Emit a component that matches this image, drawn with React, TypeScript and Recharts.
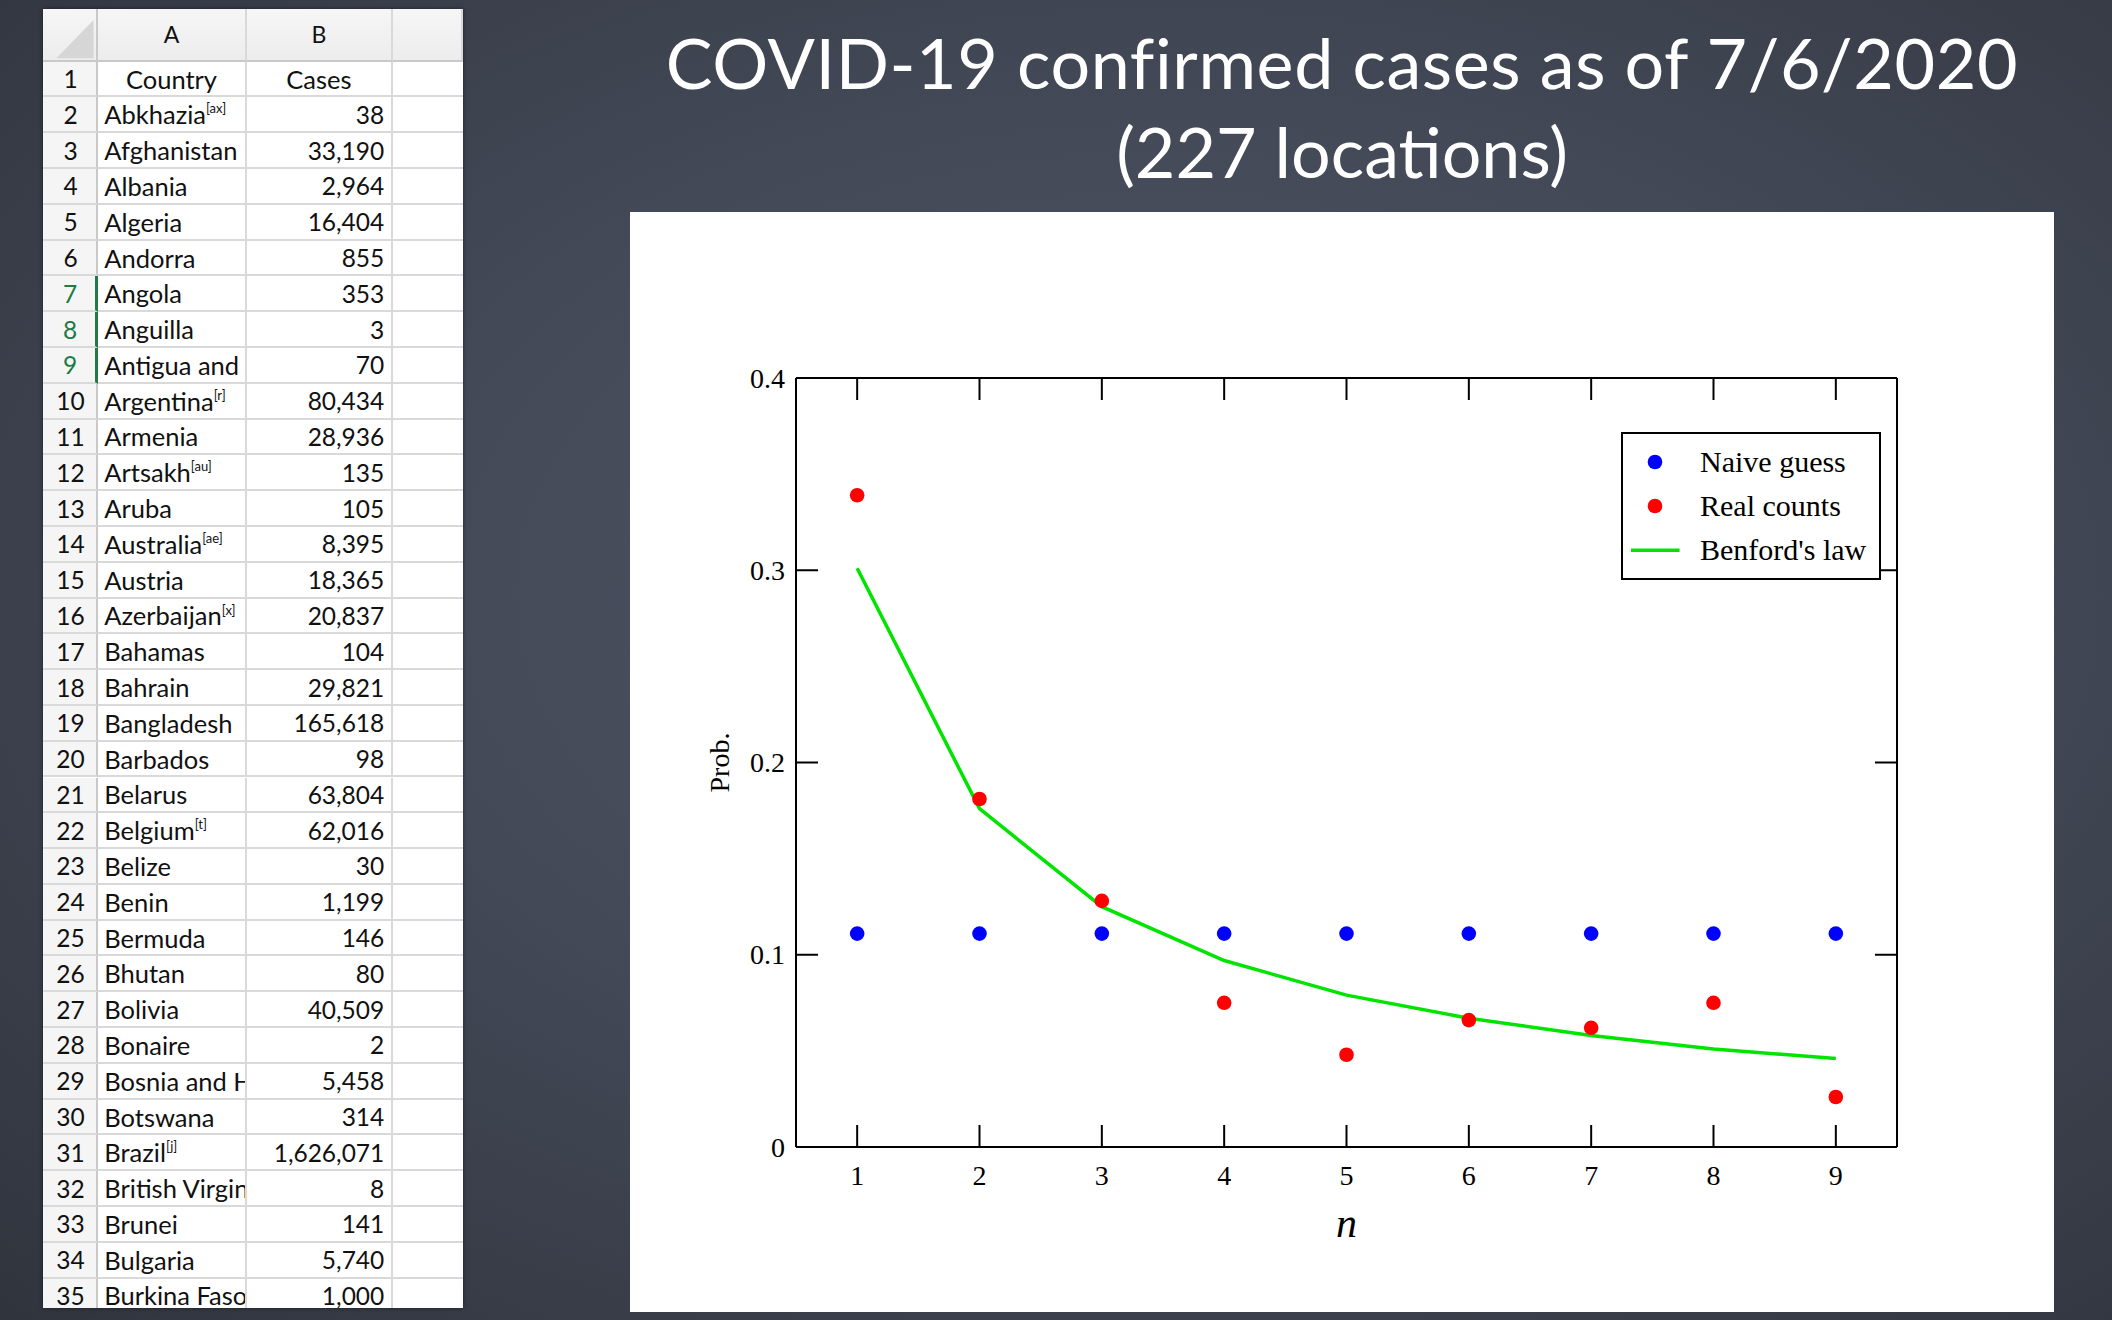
import React from 'react';
import { ComposedChart, Line, Scatter, XAxis, YAxis, Legend } from 'recharts';

// ---------- chart data ----------
const digits = [1, 2, 3, 4, 5, 6, 7, 8, 9];
const naiveGuess = [0.111, 0.111, 0.111, 0.111, 0.111, 0.111, 0.111, 0.111, 0.111];
const realCounts = [0.339, 0.181, 0.128, 0.075, 0.048, 0.066, 0.062, 0.075, 0.026];
const benfordLaw = [0.301, 0.176, 0.125, 0.097, 0.079, 0.067, 0.058, 0.051, 0.046];
const yTicks = [0, 0.1, 0.2, 0.3, 0.4];
const seriesNames = ['Naive guess', 'Real counts', "Benford's law"];
const titleLines = ['COVID-19 confirmed cases as of 7/6/2020', '(227 locations)'];

// ---------- spreadsheet data ----------
const sheetColumns = ['A', 'B'];
const sheetCountries = [
  'Country', 'Abkhazia', 'Afghanistan', 'Albania', 'Algeria', 'Andorra', 'Angola', 'Anguilla',
  'Antigua and', 'Argentina', 'Armenia', 'Artsakh', 'Aruba', 'Australia', 'Austria', 'Azerbaijan',
  'Bahamas', 'Bahrain', 'Bangladesh', 'Barbados', 'Belarus', 'Belgium', 'Belize', 'Benin', 'Bermuda',
  'Bhutan', 'Bolivia', 'Bonaire', 'Bosnia and H', 'Botswana', 'Brazil', 'British Virgin',
  'Brunei', 'Bulgaria', 'Burkina Faso',
];
const sheetNotes = [
  '', 'ax', '', '', '', '', '', '', '', 'r', '', 'au', '', 'ae', '', 'x', '', '', '', '', '', 't',
  '', '', '', '', '', '', '', '', 'j', '', '', '', '',
];
const sheetCases = [
  'Cases', '38', '33,190', '2,964', '16,404', '855', '353', '3', '70', '80,434', '28,936', '135', '105',
  '8,395', '18,365', '20,837', '104', '29,821', '165,618', '98', '63,804', '62,016', '30', '1,199', '146',
  '80', '40,509', '2', '5,458', '314', '1,626,071', '8', '141', '5,740', '1,000',
];
const selectedRows = [7, 8, 9];

const chartData = digits.map((n, i) => ({
  n,
  naive: naiveGuess[i],
  real: realCounts[i],
  benford: benfordLaw[i],
}));

const SERIF = '"Liberation Serif", "Times New Roman", serif';
const TICK = 22;
const GREEN = '#00e400';

const BottomTick = (p: any) => (
  <g>
    <line x1={p.x} y1={p.y} x2={p.x} y2={p.y - TICK} stroke="#000" strokeWidth={2} />
    <text x={p.x} y={p.y + 38} textAnchor="middle" fontFamily={SERIF} fontSize={28} fill="#000">
      {p.payload.value}
    </text>
  </g>
);
const TopTick = (p: any) => (
  <line x1={p.x} y1={p.y} x2={p.x} y2={p.y + TICK} stroke="#000" strokeWidth={2} />
);
const LeftTick = (p: any) => (
  <g>
    <line x1={p.x} y1={p.y} x2={p.x + TICK} y2={p.y} stroke="#000" strokeWidth={2} />
    <text x={p.x - 11} y={p.y + 9.5} textAnchor="end" fontFamily={SERIF} fontSize={28} fill="#000">
      {String(p.payload.value)}
    </text>
  </g>
);
const RightTick = (p: any) => (
  <line x1={p.x} y1={p.y} x2={p.x - TICK} y2={p.y} stroke="#000" strokeWidth={2} />
);

const LegendBox = () => {
  const rows = [30, 74, 118.3];
  return (
    <svg width={260} height={148} style={{ display: 'block' }}>
      <rect x={1} y={1} width={258} height={146} fill="#fff" stroke="#000" strokeWidth={2} />
      <circle cx={34} cy={rows[0]} r={7.3} fill="#0000ff" />
      <circle cx={34} cy={rows[1]} r={7.3} fill="#ff0000" />
      <line x1={10} y1={rows[2]} x2={58.6} y2={rows[2]} stroke={GREEN} strokeWidth={3.5} />
      {seriesNames.map((s, i) => (
        <text key={s} x={79} y={rows[i] + 10} fontFamily={SERIF} fontSize={30} fill="#000">
          {s}
        </text>
      ))}
    </svg>
  );
};

const dot = (color: string) => (p: any) => <circle cx={p.cx} cy={p.cy} r={7.3} fill={color} />;

const Sheet = () => {
  const colW = [55.6, 148.4, 146.6, 69.4];
  const headH = 52.7;
  const rowH = 35.79;
  const grid = '#d9d9d9';
  const font = 'Lato, "Open Sans", sans-serif';
  return (
    <div
      style={{
        position: 'absolute', left: 42.7, top: 9, width: 420, height: 1299.3, overflow: 'hidden',
        background: '#fff', boxShadow: '0 0 4px rgba(0,0,0,0.5)', fontFamily: font, color: '#111',
      }}
    >
      {/* header row */}
      <div style={{ position: 'absolute', left: 0, top: 0, height: headH, width: 420, display: 'flex', background: 'linear-gradient(#f6f6f6, #ececec)' }}>
        <div style={{ width: colW[0], height: headH, boxSizing: 'border-box', borderRight: '2px solid #c9c9c9', borderBottom: '2px solid #c9c9c9', position: 'relative' }}>
          <svg width={colW[0]} height={headH} style={{ position: 'absolute', left: 0, top: 0 }}>
            <polygon points="13.3,49.3 50.6,11 50.6,49.3" fill="#d6d6d6" />
          </svg>
        </div>
        {[...sheetColumns, ''].map((c, i) => (
          <div key={i} style={{ width: colW[i + 1], height: headH, boxSizing: 'border-box', borderRight: `2px solid ${grid}`, borderBottom: '2px solid #c9c9c9', display: 'flex', alignItems: 'center', justifyContent: 'center', fontSize: 23 }}>
            {c}
          </div>
        ))}
      </div>
      {sheetCountries.map((name, r) => {
        const rowNum = r + 1;
        const sel = selectedRows.includes(rowNum);
        const isHead = r === 0;
        return (
          <div key={r} style={{ position: 'absolute', left: 0, top: headH + r * rowH, height: rowH, width: 420, display: 'flex' }}>
            <div style={{ width: colW[0], height: rowH, boxSizing: 'border-box', background: '#f5f5f5', borderRight: sel ? '3px solid #217a46' : '2px solid #c9c9c9', borderBottom: `2px solid ${grid}`, display: 'flex', alignItems: 'center', justifyContent: 'center', color: sel ? '#217a46' : '#111', paddingLeft: 2, fontSize: 24.5 }}>
              {rowNum}
            </div>
            <div style={{ width: colW[1], height: rowH, boxSizing: 'border-box', borderRight: `2px solid ${grid}`, borderBottom: `2px solid ${grid}`, display: 'flex', alignItems: 'center', justifyContent: isHead ? 'center' : 'flex-start', paddingLeft: isHead ? 0 : 6, overflow: 'hidden', whiteSpace: 'nowrap', fontSize: 25.5 }}>
              <span>{name}</span>
              {sheetNotes[r] ? (
                <span style={{ fontSize: 13, alignSelf: 'flex-start', marginTop: 3 }}>[{sheetNotes[r]}]</span>
              ) : null}
            </div>
            <div style={{ width: colW[2], height: rowH, boxSizing: 'border-box', borderRight: `2px solid ${grid}`, borderBottom: `2px solid ${grid}`, display: 'flex', alignItems: 'center', justifyContent: isHead ? 'center' : 'flex-end', paddingRight: isHead ? 0 : 7, fontSize: isHead ? 25.5 : 24.5 }}>
              {sheetCases[r]}
            </div>
            <div style={{ width: colW[3], height: rowH, boxSizing: 'border-box', borderBottom: `2px solid ${grid}` }} />
          </div>
        );
      })}
    </div>
  );
};

export default function App() {
  return (
    <div
      style={{
        position: 'absolute', left: 0, top: 0, width: 2112, height: 1320, overflow: 'hidden',
        background: 'radial-gradient(ellipse at 55% 45%, #4c5363 0%, #444a58 45%, #30343d 100%)',
      }}
    >
      <Sheet />
      {titleLines.map((t, i) => (
        <div
          key={t}
          style={{
            position: 'absolute', left: 630, width: 1424, top: 27 + i * 89, textAlign: 'center',
            fontFamily: 'Lato, sans-serif', fontSize: 70, lineHeight: '70px', color: '#fff', whiteSpace: 'nowrap',
            letterSpacing: i === 0 ? 0.6 : 0,
          }}
        >
          {t}
        </div>
      ))}
      <div style={{ position: 'absolute', left: 630, top: 212, width: 1424, height: 1100, background: '#fff' }}>
        <ComposedChart width={1424} height={1100} data={chartData} margin={{ top: 0, right: 0, bottom: 0, left: 0 }}>
          <XAxis
            xAxisId="b" type="number" dataKey="n" domain={[0.5, 9.5]} ticks={digits} interval={0}
            allowDataOverflow height={165} tickSize={0} tickMargin={0} tickLine={false}
            axisLine={{ stroke: '#000', strokeWidth: 2 }} tick={BottomTick}
            label={{
              value: 'n',
              content: (props: any) => {
                const vb = props.viewBox || {};
                return (
                  <text x={vb.x + vb.width / 2} y={vb.y + 90} textAnchor="middle" fontFamily={SERIF} fontStyle="italic" fontSize={42} fill="#000">
                    n
                  </text>
                );
              },
            }}
          />
          <XAxis
            xAxisId="t" orientation="top" type="number" dataKey="n" domain={[0.5, 9.5]} ticks={digits} interval={0}
            allowDataOverflow height={166} tickSize={0} tickMargin={0} tickLine={false}
            axisLine={{ stroke: '#000', strokeWidth: 2 }} tick={TopTick}
          />
          <YAxis
            yAxisId="l" type="number" domain={[0, 0.4]} ticks={yTicks} interval={0} allowDataOverflow
            width={166} tickSize={0} tickMargin={0} tickLine={false}
            axisLine={{ stroke: '#000', strokeWidth: 2 }} tick={LeftTick}
            label={{
              value: 'Prob.',
              content: (props: any) => {
                const vb = props.viewBox || {};
                const cx = vb.x + 89.5;
                const cy = vb.y + vb.height / 2;
                return (
                  <text x={cx} y={cy} transform={`rotate(-90 ${cx} ${cy})`} textAnchor="middle" dominantBaseline="central" fontFamily={SERIF} fontSize={28} fill="#000">
                    Prob.
                  </text>
                );
              },
            }}
          />
          <YAxis
            yAxisId="r" orientation="right" type="number" domain={[0, 0.4]} ticks={yTicks} interval={0} allowDataOverflow
            width={157} tickSize={0} tickMargin={0} tickLine={false}
            axisLine={{ stroke: '#000', strokeWidth: 2 }} tick={RightTick}
          />
          <Line
            xAxisId="b" yAxisId="l" type="linear" dataKey="benford" name={seriesNames[2]}
            stroke={GREEN} strokeWidth={3.5} dot={false} activeDot={false} isAnimationActive={false}
          />
          <Scatter
            xAxisId="b" yAxisId="l" dataKey="naive" name={seriesNames[0]} fill="#0000ff"
            shape={dot('#0000ff')} isAnimationActive={false}
          />
          <Scatter
            xAxisId="b" yAxisId="l" dataKey="real" name={seriesNames[1]} fill="#ff0000"
            shape={dot('#ff0000')} isAnimationActive={false}
          />
          <Legend
            layout="horizontal" verticalAlign="middle" align="center"
            wrapperStyle={{ left: 991, top: 220, width: 260, height: 148 }}
            content={LegendBox}
          />
        </ComposedChart>
      </div>
    </div>
  );
}
